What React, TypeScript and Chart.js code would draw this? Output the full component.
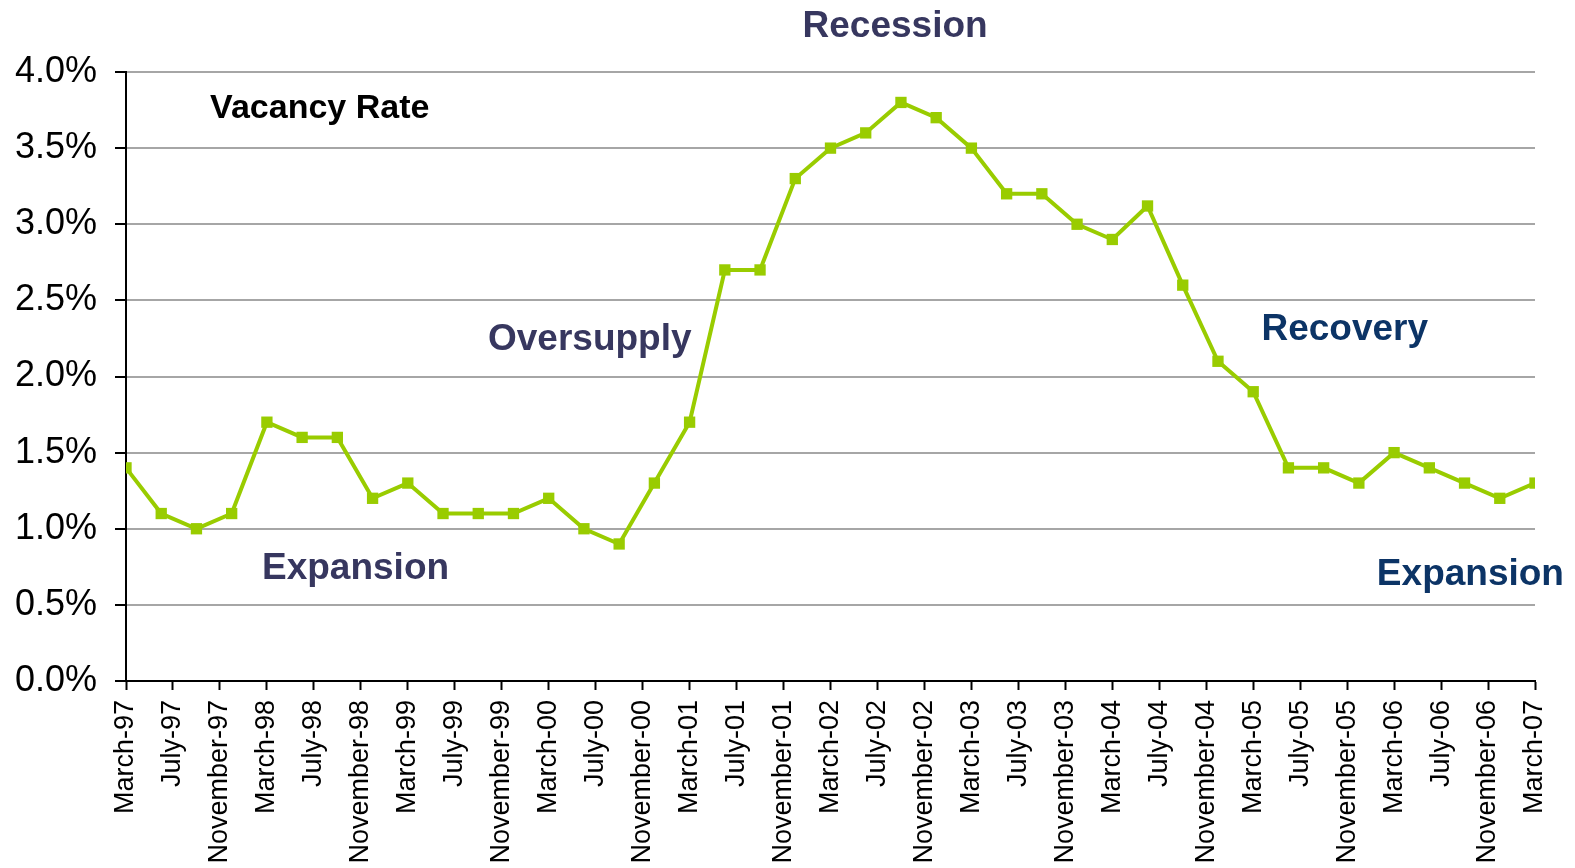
import React, { useEffect, useRef } from "react";
import { Chart, registerables } from "chart.js";

Chart.register(...registerables);

// Quarterly observation dates (YYYY-MM)
const periods: string[] = [
  "1997-03", "1997-06", "1997-09", "1997-12",
  "1998-03", "1998-06", "1998-09", "1998-12",
  "1999-03", "1999-06", "1999-09", "1999-12",
  "2000-03", "2000-06", "2000-09", "2000-12",
  "2001-03", "2001-06", "2001-09", "2001-12",
  "2002-03", "2002-06", "2002-09", "2002-12",
  "2003-03", "2003-06", "2003-09", "2003-12",
  "2004-03", "2004-06", "2004-09", "2004-12",
  "2005-03", "2005-06", "2005-09", "2005-12",
  "2006-03", "2006-06", "2006-09", "2006-12",
  "2007-03",
];

// Vacancy rate, %
const vacancy: number[] = [
  1.4, 1.1, 1.0, 1.1,
  1.7, 1.6, 1.6, 1.2,
  1.3, 1.1, 1.1, 1.1,
  1.2, 1.0, 0.9, 1.3,
  1.7, 2.7, 2.7, 3.3,
  3.5, 3.6, 3.8, 3.7,
  3.5, 3.2, 3.2, 3.0,
  2.9, 3.12, 2.6, 2.1,
  1.9, 1.4, 1.4, 1.3,
  1.5, 1.4, 1.3, 1.2,
  1.3,
];

const monthNames: string[] = [
  "January", "February", "March", "April", "May", "June",
  "July", "August", "September", "October", "November", "December",
];

// Axis settings
const startYear = 1997;
const startMonth = 3; // March
const tickStepMonths = 4;
const yMin = 0;
const yMax = 4;
const yStep = 0.5;

// Phase annotations: text, anchor month offset, anchor value (baseline), colour
const phaseTexts: string[] = ["Vacancy Rate", "Recession", "Oversupply", "Expansion", "Recovery", "Expansion"];
const phaseMonths: number[] = [16.5, 65.5, 39.5, 19.55, 103.8, 114.5];
const phaseValues: number[] = [3.70, 4.233, 2.173, 0.668, 2.239, 0.633];
const phaseColors: string[] = ["#000000", "#37375f", "#37375f", "#37375f", "#0c3466", "#0c3466"];
const phaseSizes: number[] = [34, 37, 37, 37, 37, 37];

const FONT = "'Liberation Sans', Arial, Helvetica, sans-serif";

function toMonthOffset(p: string): number {
  const [y, m] = p.split("-").map(Number);
  return (y - startYear) * 12 + (m - startMonth);
}

function monthLabel(offset: number): string {
  const total = startMonth - 1 + offset;
  const y = startYear + Math.floor(total / 12);
  const m = ((total % 12) + 12) % 12;
  return `${monthNames[m]}-${String(y % 100).padStart(2, "0")}`;
}

const annotationPlugin = {
  id: "phaseText",
  afterDraw(chart: any) {
    const { ctx, scales } = chart;
    const xs = scales.x;
    const ys = scales.y;
    ctx.save();
    ctx.textAlign = "center";
    ctx.textBaseline = "alphabetic";
    phaseTexts.forEach((t, i) => {
      ctx.font = `bold ${phaseSizes[i]}px ${FONT}`;
      ctx.fillStyle = phaseColors[i];
      ctx.fillText(t, xs.getPixelForValue(phaseMonths[i]), ys.getPixelForValue(phaseValues[i]));
    });
    ctx.restore();
  },
};

export default function App() {
  const ref = useRef<HTMLCanvasElement | null>(null);

  useEffect(() => {
    if (!ref.current) return;
    const points = periods.map((p, i) => ({ x: toMonthOffset(p), y: vacancy[i] }));
    const lastOffset = toMonthOffset(periods[periods.length - 1]);
    const chart = new Chart(ref.current, {
      type: "line",
      data: {
        datasets: [
          {
            label: "Vacancy Rate",
            data: points,
            borderColor: "#99cc00",
            backgroundColor: "#99cc00",
            borderWidth: 4,
            pointStyle: "rect",
            pointRadius: 8,
            pointBorderWidth: 0,
            pointBackgroundColor: "#99cc00",
            tension: 0,
          },
        ],
      },
      options: {
        responsive: false,
        animation: false,
        layout: { padding: { top: 72, right: 40, left: 0, bottom: 0 } },
        plugins: {
          legend: { display: false },
          tooltip: { enabled: false },
        },
        scales: {
          x: {
            type: "linear",
            min: 0,
            max: lastOffset,
            afterFit: (s: any) => {
              s.height = 187;
              s.paddingLeft = 0;
              s.paddingRight = 0;
            },
            ticks: {
              stepSize: tickStepMonths,
              autoSkip: false,
              maxRotation: 90,
              minRotation: 90,
              padding: 10,
              color: "#000",
              font: { size: 27, family: FONT },
              callback: (v: any) => monthLabel(Number(v)),
            },
            grid: {
              drawOnChartArea: false,
              drawTicks: true,
              tickLength: 9,
              tickColor: "#000",
              tickWidth: 2,
            },
            border: { color: "#000", width: 2 },
          },
          y: {
            min: yMin,
            max: yMax,
            afterFit: (s: any) => {
              s.width = 126;
            },
            ticks: {
              stepSize: yStep,
              padding: 18,
              color: "#000",
              font: { size: 36, family: FONT },
              callback: (v: any) => `${Number(v).toFixed(1)}%`,
            },
            grid: {
              color: "#a6a6a6",
              lineWidth: 2,
              tickLength: 11,
              tickColor: "#000",
              tickWidth: 2,
            },
            border: { color: "#000", width: 2 },
          },
        },
      },
      plugins: [annotationPlugin],
    });
    return () => chart.destroy();
  }, []);

  return (
    <div style={{ position: "absolute", left: 0, top: 0, width: 1575, height: 868, background: "#fff" }}>
      <canvas ref={ref} width={1575} height={868} />
    </div>
  );
}
